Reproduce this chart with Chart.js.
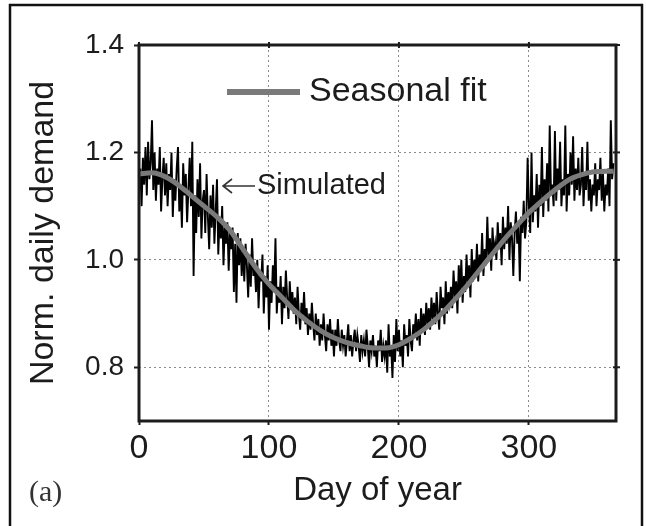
<!DOCTYPE html>
<html>
<head>
<meta charset="utf-8">
<script src="https://cdn.jsdelivr.net/npm/chart.js@4.4.1/dist/chart.umd.min.js"></script>
<style>
  html, body { margin: 0; padding: 0; background: #fff; }
  #wrap { width: 646px; height: 526px; }
</style>
</head>
<body>
<div id="wrap"><canvas id="demand-chart" width="646" height="526"></canvas></div>
<script>
// Data definitions
// simulated daily demand, one value per day from day 0 to day 365
const simDemand = [
  1.13, 1.17, 1.10, 1.19, 1.14, 1.21, 1.12, 1.22, 1.15, 1.18,
  1.26, 1.13, 1.20, 1.11, 1.17, 1.14, 1.21, 1.09, 1.15, 1.19,
  1.12, 1.18, 1.10, 1.16, 1.13, 1.20, 1.08, 1.15, 1.11, 1.17,
  1.21, 1.09, 1.14, 1.06, 1.18, 1.12, 1.16, 1.07, 1.13, 1.19,
  1.10, 1.22, 0.97, 1.12, 1.05, 1.15, 1.08, 1.18, 1.04, 1.11,
  1.13, 1.05, 1.16, 1.08, 1.02, 1.12, 1.06, 1.14, 1.03, 1.09,
  1.15, 1.01, 1.08, 1.04, 1.10, 0.99, 1.06, 1.03, 1.07, 0.98,
  1.05, 1.02, 1.06, 0.94, 1.03, 0.92, 1.05, 0.99, 1.04, 0.97,
  1.02, 0.96, 1.03, 0.99, 0.93, 1.01, 0.95, 1.04, 0.97, 0.99,
  0.94, 1.00, 0.91, 0.98, 0.96, 1.01, 0.90, 0.97, 0.93, 0.99,
  0.87, 0.96, 0.92, 0.99, 0.94, 1.04, 0.90, 0.95, 0.92, 0.97,
  0.88, 0.95, 0.91, 0.98, 0.93, 0.89, 0.96, 0.91, 0.94, 0.90,
  0.93, 0.88, 0.95, 0.90, 0.87, 0.92, 0.89, 0.94, 0.88, 0.91,
  0.86, 0.90, 0.87, 0.92, 0.88, 0.85, 0.90, 0.86, 0.89, 0.84,
  0.88, 0.85, 0.90, 0.86, 0.83, 0.88, 0.85, 0.89, 0.84, 0.87,
  0.82, 0.87, 0.84, 0.89, 0.85, 0.83, 0.87, 0.84, 0.86, 0.82,
  0.85, 0.88, 0.83, 0.86, 0.82, 0.85, 0.87, 0.83, 0.86, 0.84,
  0.81, 0.86, 0.83, 0.85, 0.82, 0.87, 0.84, 0.80, 0.85, 0.83,
  0.86, 0.82, 0.84, 0.80, 0.85, 0.83, 0.87, 0.81, 0.84, 0.82,
  0.85, 0.79, 0.88, 0.82, 0.84, 0.78, 0.86, 0.81, 0.89, 0.83,
  0.87, 0.82, 0.85, 0.80, 0.88, 0.84, 0.86, 0.82, 0.89, 0.85,
  0.83, 0.88, 0.86, 0.90, 0.85, 0.89, 0.84, 0.91, 0.87, 0.90,
  0.86, 0.92, 0.88, 0.91, 0.87, 0.93, 0.89, 0.92, 0.88, 0.94,
  0.90, 0.87, 0.95, 0.91, 0.93, 0.88, 0.96, 0.90, 0.94, 0.92,
  0.95, 0.91, 0.98, 0.93, 0.96, 0.90, 0.99, 0.94, 1.00, 0.92,
  0.97, 0.94, 1.01, 0.95, 0.99, 0.93, 1.02, 0.96, 1.00, 0.97,
  1.03, 0.96, 1.01, 0.98, 1.05, 0.97, 1.02, 0.99, 1.08, 1.00,
  1.04, 0.98, 1.06, 1.01, 1.03, 1.00, 1.07, 1.02, 1.05, 0.99,
  1.08, 1.02, 1.06, 1.03, 1.10, 1.00, 1.07, 1.04, 0.97, 1.05,
  1.09, 1.03, 1.07, 0.96, 1.08, 1.05, 1.11, 1.04, 1.07, 1.19,
  1.10, 1.05, 1.20, 1.07, 1.12, 1.09, 1.16, 1.06, 1.14, 1.10,
  1.21, 1.08, 1.15, 1.11, 1.18, 1.09, 1.25, 1.12, 1.14, 1.10,
  1.24, 1.11, 1.17, 1.13, 1.22, 1.10, 1.15, 1.12, 1.25, 1.09,
  1.16, 1.12, 1.20, 1.14, 1.23, 1.11, 1.17, 1.13, 1.19, 1.12,
  1.14, 1.21, 1.10, 1.16, 1.13, 1.22, 1.11, 1.15, 1.09, 1.14,
  1.12, 1.18, 1.10, 1.15, 1.13, 1.19, 1.11, 1.16, 1.09, 1.14,
  1.12, 1.17, 1.10, 1.26, 1.15, 1.18
];

// seasonal fit, sampled every 10 days
const fitDays = [0, 10, 20, 30, 40, 50, 60, 70, 80, 90, 100, 110, 120, 130, 140, 150, 160, 170, 180,
  190, 200, 210, 220, 230, 240, 250, 260, 270, 280, 290, 300, 310, 320, 330, 340, 350, 360, 365];
const fitDemand = [1.160, 1.162, 1.155, 1.140, 1.120, 1.100, 1.080, 1.055, 1.020, 0.985, 0.955, 0.930,
  0.905, 0.885, 0.868, 0.855, 0.846, 0.840, 0.836, 0.836, 0.842, 0.855, 0.872, 0.893, 0.918, 0.945,
  0.975, 1.005, 1.035, 1.062, 1.088, 1.110, 1.130, 1.148, 1.158, 1.164, 1.165, 1.165];

const xTicks = [0, 100, 200, 300];
const yTicks = [0.8, 1.0, 1.2, 1.4];
const seriesNames = ['Seasonal fit', 'Simulated'];
const panelLabel = '(a)';

const sansFont = "'Liberation Sans', Arial, Helvetica, sans-serif";
const ink = '#1c1c1c';
const fitGray = '#7a7a7a';

// Plot frame, legend, arrow note and panel letter
const decorations = {
  id: 'decorations',
  afterDatasetsDraw(chart) {
    const { ctx, chartArea: a, scales } = chart;
    ctx.save();

    // plot frame
    ctx.strokeStyle = ink;
    ctx.lineWidth = 3;
    ctx.strokeRect(a.left, a.top, a.right - a.left, a.bottom - a.top);

    // tick marks on top and right borders
    ctx.lineWidth = 2;
    xTicks.forEach(v => {
      const px = scales.x.getPixelForValue(v);
      ctx.beginPath(); ctx.moveTo(px, a.top - 3); ctx.lineTo(px, a.top + 3); ctx.stroke();
    });
    yTicks.forEach(v => {
      const py = scales.y.getPixelForValue(v);
      ctx.beginPath(); ctx.moveTo(a.right - 3, py); ctx.lineTo(a.right + 4, py); ctx.stroke();
    });

    // legend entry for the fit
    const ly = a.top + 47;
    ctx.strokeStyle = fitGray;
    ctx.lineWidth = 6;
    ctx.beginPath(); ctx.moveTo(a.left + 88, ly); ctx.lineTo(a.left + 161, ly); ctx.stroke();
    ctx.fillStyle = ink;
    ctx.font = '34px ' + sansFont;
    ctx.textBaseline = 'middle';
    ctx.textAlign = 'left';
    ctx.fillText(seriesNames[0], a.left + 170, ly);

    // arrow note for the simulated series
    const ny = a.top + 141;
    ctx.strokeStyle = '#333';
    ctx.lineWidth = 1.6;
    ctx.beginPath();
    ctx.moveTo(a.left + 84, ny); ctx.lineTo(a.left + 116, ny);
    ctx.moveTo(a.left + 93, ny - 7); ctx.lineTo(a.left + 84, ny); ctx.lineTo(a.left + 93, ny + 7);
    ctx.stroke();
    ctx.font = '29px ' + sansFont;
    ctx.fillText(seriesNames[1], a.left + 118, ny);

    // panel letter
    ctx.fillStyle = '#333';
    ctx.font = '30px "Liberation Serif", "Times New Roman", serif';
    ctx.fillText(panelLabel, 29, 493);

    ctx.restore();
  },
  afterDraw(chart) {
    // outer figure frame
    const { ctx } = chart;
    ctx.save();
    ctx.strokeStyle = '#111';
    ctx.lineWidth = 2.5;
    ctx.beginPath();
    ctx.moveTo(10, 530); ctx.lineTo(10, 5); ctx.lineTo(642, 5); ctx.lineTo(642, 530);
    ctx.stroke();
    ctx.restore();
  }
};

const gridStyle = {
  color: '#8a8a8a',
  lineWidth: 1,
  drawTicks: true,
  tickColor: ink,
  tickWidth: 2,
  tickBorderDash: []
};

const chart = new Chart(document.getElementById('demand-chart').getContext('2d'), {
  type: 'line',
  data: {
    datasets: [
      {
        label: seriesNames[0],
        data: fitDays.map((d, i) => ({ x: d, y: fitDemand[i] })),
        borderColor: fitGray,
        borderWidth: 5,
        cubicInterpolationMode: 'monotone',
        pointRadius: 0,
        fill: false,
        order: 0
      },
      {
        label: seriesNames[1],
        data: simDemand.map((v, d) => ({ x: d, y: v })),
        borderColor: '#000',
        borderWidth: 1.9,
        tension: 0,
        pointRadius: 0,
        fill: false,
        order: 1
      }
    ]
  },
  options: {
    responsive: false,
    animation: false,
    devicePixelRatio: 1,
    layout: { padding: { left: 0, top: 45, right: 30, bottom: 0 } },
    plugins: {
      legend: { display: false },
      tooltip: { enabled: false }
    },
    scales: {
      x: {
        type: 'linear',
        min: 0,
        max: 367,
        afterBuildTicks: s => { s.ticks = xTicks.map(v => ({ value: v })); },
        afterFit: s => { s.height = 105; },
        border: { display: false, dash: [2, 3] },
        grid: Object.assign({ tickLength: 4 }, gridStyle),
        ticks: {
          color: ink,
          padding: 3,
          maxRotation: 0,
          font: { family: sansFont, size: 34 },
          callback: v => String(v)
        },
        title: {
          display: true,
          text: 'Day of year',
          color: ink,
          font: { family: sansFont, size: 33 },
          padding: { top: 0, bottom: 15 }
        }
      },
      y: {
        type: 'linear',
        min: 0.7,
        max: 1.4,
        afterBuildTicks: s => { s.ticks = yTicks.map(v => ({ value: v })); },
        afterFit: s => { s.width = 139; },
        border: { display: false, dash: [2, 3] },
        grid: Object.assign({ tickLength: 5 }, gridStyle),
        ticks: {
          color: ink,
          padding: 10,
          font: { family: sansFont, size: 28 },
          callback: v => v.toFixed(1)
        },
        title: {
          display: true,
          text: 'Norm. daily demand',
          color: ink,
          font: { family: sansFont, size: 34 },
          padding: { top: 23, bottom: 0 }
        }
      }
    }
  },
  plugins: [decorations]
});
</script>
</body>
</html>
